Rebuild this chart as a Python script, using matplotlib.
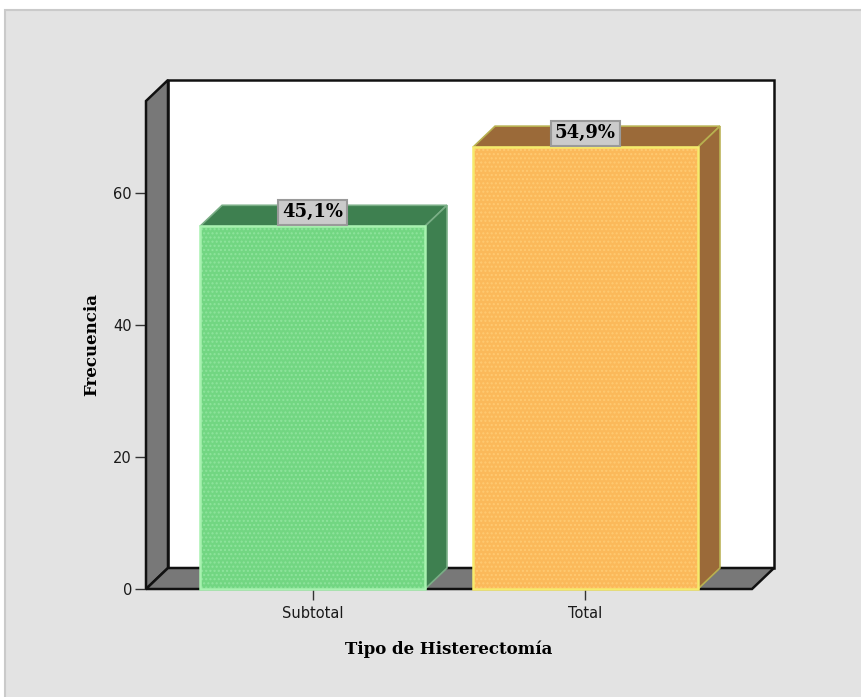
import matplotlib
matplotlib.use("Agg")
import matplotlib.pyplot as plt
from matplotlib.patches import Polygon, Rectangle

# data
categories = ["Subtotal", "Total"]
counts = [55, 67]
yticks = [0, 20, 40, 60]

front_colors = ["#72d682", "#fbb95a"]
dot_colors = ["#8fe49d", "#ffca72"]
edge_colors = ["#a8f2b0", "#f6ea6c"]
dark_colors = ["#3e8050", "#9b6a39"]
dark_edges = ["#7aae86", "#b8b050"]

W, H = 861, 697
fig = plt.figure(figsize=(W / 100, H / 100), dpi=100)
fig.patch.set_facecolor("white")
# gray panel, border only shows on top and left
fig.add_artist(Rectangle((5 / W, -0.05), 1.1, (H - 10) / H + 0.05, transform=fig.transFigure,
                         facecolor="#e3e3e3", edgecolor="#cacaca", lw=1.5, zorder=-10))

# front frame in pixels: x 146..752, y 589..101
ax = fig.add_axes([146 / W, (H - 589) / H, 606 / W, 488 / H])
ax.set_facecolor("none")
for s in ax.spines.values():
    s.set_visible(False)

xmin, xmax = -0.61, 1.61
ymax = 74
ax.set_xlim(xmin, xmax)
ax.set_ylim(0, ymax)

# 3d depth in data units (22px right, 21px up)
dx = 22 / 606 * (xmax - xmin)
dy = 21 / 488 * ymax

def poly(pts, **kw):
    p = Polygon(pts, closed=True, clip_on=False, **kw)
    ax.add_patch(p)
    return p

# back wall
poly([(xmin + dx, dy), (xmax + dx, dy), (xmax + dx, ymax + dy), (xmin + dx, ymax + dy)],
     facecolor="white", edgecolor="#111111", lw=1.8, zorder=1)
# left wall
poly([(xmin, 0), (xmin + dx, dy), (xmin + dx, ymax + dy), (xmin, ymax)],
     facecolor="#787878", edgecolor="#111111", lw=1.8, zorder=2)
# floor
poly([(xmin, 0), (xmax, 0), (xmax + dx, dy), (xmin + dx, dy)],
     facecolor="#787878", edgecolor="#111111", lw=1.8, zorder=2)

plt.rcParams["hatch.linewidth"] = 1.0
width = 0.824
total = sum(counts)
for i, (cat, n) in enumerate(zip(categories, counts)):
    x0, x1 = i - width / 2, i + width / 2
    # top face
    poly([(x0, n), (x1, n), (x1 + dx, n + dy), (x0 + dx, n + dy)],
         facecolor=dark_colors[i], edgecolor=dark_edges[i], lw=1.2, zorder=3)
    # side face
    poly([(x1, 0), (x1 + dx, dy), (x1 + dx, n + dy), (x1, n)],
         facecolor=dark_colors[i], edgecolor=dark_edges[i], lw=1.2, zorder=3)
    # front face with dotted texture
    ax.add_patch(Rectangle((x0, 0), width, n, facecolor=front_colors[i],
                           edgecolor=dot_colors[i], hatch="....", lw=0, zorder=4,
                           clip_on=False))
    ax.add_patch(Rectangle((x0, 0), width, n, facecolor="none",
                           edgecolor=edge_colors[i], lw=1.8, zorder=5, clip_on=False))
    pct = f"{n / total * 100:.1f}%".replace(".", ",")
    ax.annotate(pct, (i, n), xytext=(0, 3.5), textcoords="offset points",
                ha="center", va="bottom", fontsize=13, fontweight="bold",
                family="DejaVu Serif", zorder=6,
                bbox=dict(boxstyle="square,pad=0.2", facecolor="#cbcbcb",
                          edgecolor="#9a9a9a", lw=1.5))

ax.set_xticks(range(len(categories)))
ax.set_xticklabels(categories, fontsize=10.5, color="#1a1a1a")
ax.set_yticks(yticks)
ax.set_yticklabels([str(t) for t in yticks], fontsize=10.5, color="#1a1a1a")
ax.tick_params(axis="x", length=8, width=1, color="#333333", pad=4)
ax.tick_params(axis="y", length=8, width=1, color="#333333", pad=2)

ax.set_xlabel("Tipo de Histerectomía", fontsize=12, fontweight="bold",
              family="DejaVu Serif")
ax.xaxis.set_label_coords(0.5, -0.123)
ax.xaxis.label.set_va("center")
ax.set_ylabel("Frecuencia", fontsize=12, fontweight="bold", family="DejaVu Serif")
ax.yaxis.set_label_coords(-0.089, 0.5)
ax.yaxis.label.set_va("center")

fig.savefig("out.png", dpi=100)
